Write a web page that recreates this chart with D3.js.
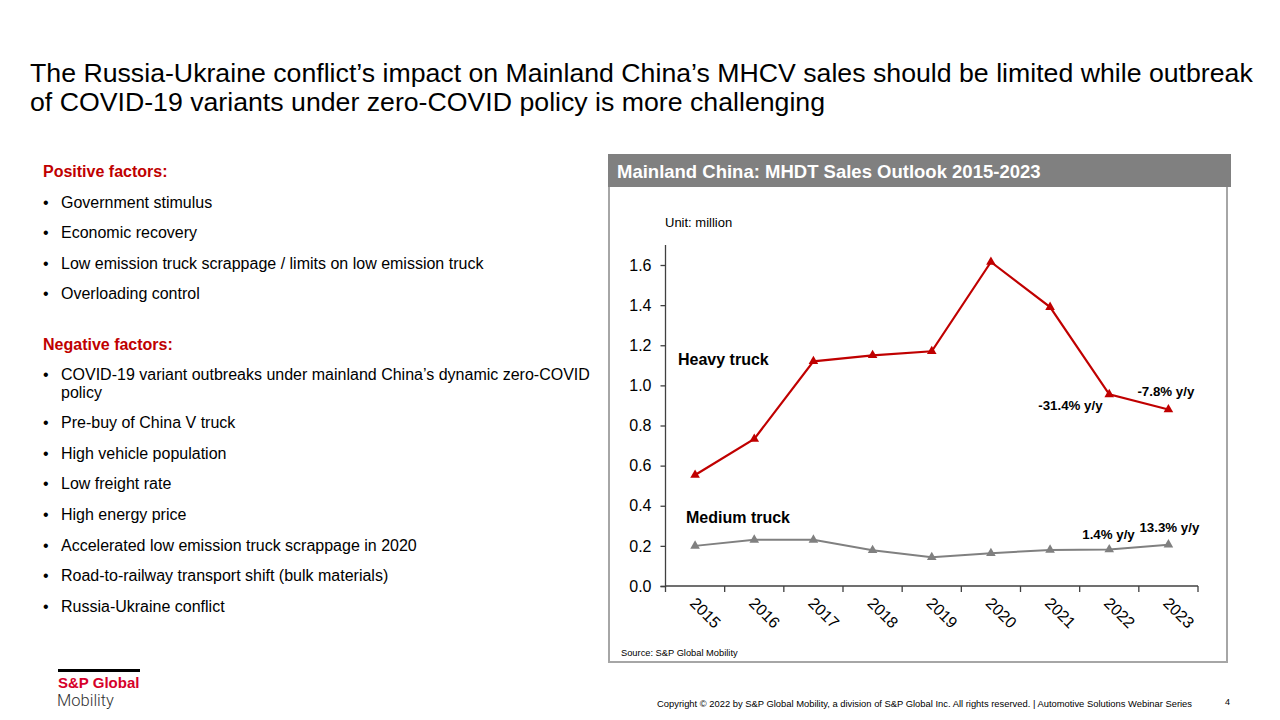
<!DOCTYPE html>
<html><head><meta charset="utf-8">
<script src="https://cdn.jsdelivr.net/npm/d3@7"></script>
<style>
body{margin:0;background:#fff;}
svg{display:block;font-family:"Liberation Sans",Arial,sans-serif;}
</style></head>
<body>
<svg id="c" width="1280" height="720"></svg>
<script>
const years = ["2015","2016","2017","2018","2019","2020","2021","2022","2023"];
const heavyTruck = [0.553, 0.733, 1.12, 1.15, 1.17, 1.615, 1.39, 0.955, 0.88];
const mediumTruck = [0.20, 0.23, 0.23, 0.178, 0.143, 0.163, 0.18, 0.182, 0.206];
const yTicks = [0, 0.2, 0.4, 0.6, 0.8, 1.0, 1.2, 1.4, 1.6];
const titleLines = ["The Russia-Ukraine conflict\u2019s impact on Mainland China\u2019s MHCV sales should be limited while outbreak",
                    "of COVID-19 variants under zero-COVID policy is more challenging"];
const positiveFactors = ["Government stimulus","Economic recovery","Low emission truck scrappage / limits on low emission truck","Overloading control"];
const negativeFactors = [["COVID-19 variant outbreaks under mainland China\u2019s dynamic zero-COVID","policy"],["Pre-buy of China V truck"],["High vehicle population"],["Low freight rate"],["High energy price"],["Accelerated low emission truck scrappage in 2020"],["Road-to-railway transport shift (bulk materials)"],["Russia-Ukraine conflict"]];
const heavyNotes = [{i:7,text:"-31.4% y/y",dx:-71,dy:16},{i:8,text:"-7.8% y/y",dx:-31,dy:-13}];
const mediumNotes = [{i:7,text:"1.4% y/y",dx:-27,dy:-10},{i:8,text:"13.3% y/y",dx:-29,dy:-13}];

const svg = d3.select("#c");

// Title
svg.append("g").selectAll("text").data(titleLines).join("text")
  .attr("x",30).attr("y",(d,i)=>82+i*29)
  .attr("font-size",26.7).attr("fill","#000").text(d=>d);

// Left column
const red = "#c00000";
const fs = 16;
svg.append("text").attr("x",43).attr("y",177).attr("font-size",fs).attr("font-weight","bold").attr("fill",red).text("Positive factors:");
positiveFactors.forEach((t,i)=>{
  const y = 208 + i*30.3;
  svg.append("text").attr("x",43).attr("y",y).attr("font-size",fs).text("\u2022");
  svg.append("text").attr("x",61).attr("y",y).attr("font-size",fs).attr("fill","#000").text(t);
});
svg.append("text").attr("x",43).attr("y",350).attr("font-size",fs).attr("font-weight","bold").attr("fill",red).text("Negative factors:");
let ny = 380;
negativeFactors.forEach((lines,i)=>{
  svg.append("text").attr("x",43).attr("y",ny).attr("font-size",fs).text("\u2022");
  lines.forEach((t,j)=>{
    svg.append("text").attr("x",61).attr("y",ny+j*17.5).attr("font-size",fs).attr("fill","#000").text(t);
  });
  ny += (lines.length-1)*17.5 + 30.65;
});

// Panel
svg.append("rect").attr("x",609).attr("y",170).attr("width",618).attr("height",492)
  .attr("fill","#fff").attr("stroke","#a6a6a6").attr("stroke-width",2);
svg.append("rect").attr("x",608).attr("y",154).attr("width",623).attr("height",33).attr("fill","#808080");
svg.append("text").attr("x",617).attr("y",178).attr("font-size",18.5).attr("font-weight","bold").attr("fill","#fff")
  .text("Mainland China: MHDT Sales Outlook 2015-2023");

// Chart
const x = d3.scaleBand().domain(years).range([665.5,1198]);
const y = d3.scaleLinear().domain([0,1.6]).range([586,265]);

svg.append("text").attr("x",665).attr("y",227).attr("font-size",13).attr("fill","#000").text("Unit: million");

const yAxis = svg.append("g").attr("transform","translate(665.5,0)")
  .call(d3.axisLeft(y).tickValues(yTicks).tickFormat(d3.format(".1f")).tickSize(5).tickPadding(9));
yAxis.select(".domain").attr("d","M-5,586.5H0V245");
yAxis.selectAll("text").attr("font-size",16).attr("fill","#000").attr("font-family","Liberation Sans, Arial, sans-serif");
yAxis.selectAll("line,path").attr("stroke","#404040").attr("stroke-width",1.3);

const xAxis = svg.append("g").attr("transform","translate(0,586)");
xAxis.append("line").attr("x1",665.5).attr("x2",1198).attr("y1",0).attr("y2",0).attr("stroke","#404040").attr("stroke-width",1.3);
const bounds = years.map(d=>x(d)).concat([x.range()[1]]);
xAxis.selectAll("line.t").data(bounds).join("line").attr("class","t")
  .attr("x1",d=>d).attr("x2",d=>d).attr("y1",0).attr("y2",6).attr("stroke","#404040").attr("stroke-width",1.3);
xAxis.selectAll("text").data(years).join("text")
  .attr("transform",d=>`translate(${x(d)+x.bandwidth()/2+2},${10}) rotate(45)`)
  .attr("font-size",16).attr("dy","0.72em").attr("fill","#000").text(d=>d);

const cx = d => x(d)+x.bandwidth()/2;
const line = d3.line().x((v,i)=>cx(years[i])).y(v=>y(v));
const tri = d3.symbol().type(d3.symbolTriangle).size(40);

function series(vals,color,width){
  svg.append("path").attr("d",line(vals)).attr("fill","none").attr("stroke",color).attr("stroke-width",width);
  svg.append("g").selectAll("path").data(vals).join("path")
    .attr("d",tri).attr("transform",(v,i)=>`translate(${cx(years[i])},${y(v)})`).attr("fill",color);
}
series(mediumTruck,"#808080",2);
series(heavyTruck,"#c00000",2.2);

svg.append("text").attr("x",678).attr("y",365).attr("font-size",16).attr("font-weight","bold").text("Heavy truck");
svg.append("text").attr("x",686).attr("y",523).attr("font-size",16).attr("font-weight","bold").text("Medium truck");
heavyNotes.forEach(n=>{
  svg.append("text").attr("x",cx(years[n.i])+n.dx).attr("y",y(heavyTruck[n.i])+n.dy).attr("font-size",13.3).attr("font-weight","bold").text(n.text);
});
mediumNotes.forEach(n=>{
  svg.append("text").attr("x",cx(years[n.i])+n.dx).attr("y",y(mediumTruck[n.i])+n.dy).attr("font-size",13.3).attr("font-weight","bold").text(n.text);
});

svg.append("text").attr("x",621).attr("y",656).attr("font-size",9.3).attr("fill","#000").text("Source: S&P Global Mobility");

// Footer
svg.append("rect").attr("x",58).attr("y",669).attr("width",82).attr("height",3).attr("fill","#000");
svg.append("text").attr("x",58).attr("y",688).attr("font-size",15).attr("font-weight","bold").attr("fill","#d6002a").text("S&P Global");
svg.append("text").attr("x",57).attr("y",706).attr("font-size",16.5).attr("fill","#333").attr("font-family","Roboto, sans-serif").attr("font-weight",300).text("Mobility");
svg.append("text").attr("x",1192).attr("y",707).attr("font-size",9.4).attr("text-anchor","end").attr("fill","#000")
  .text("Copyright \u00a9 2022 by S&P Global Mobility, a division of S&P Global Inc. All rights reserved. | Automotive Solutions Webinar Series");
svg.append("text").attr("x",1225).attr("y",705).attr("font-size",9).attr("fill","#000").text("4");
</script>
</body></html>
